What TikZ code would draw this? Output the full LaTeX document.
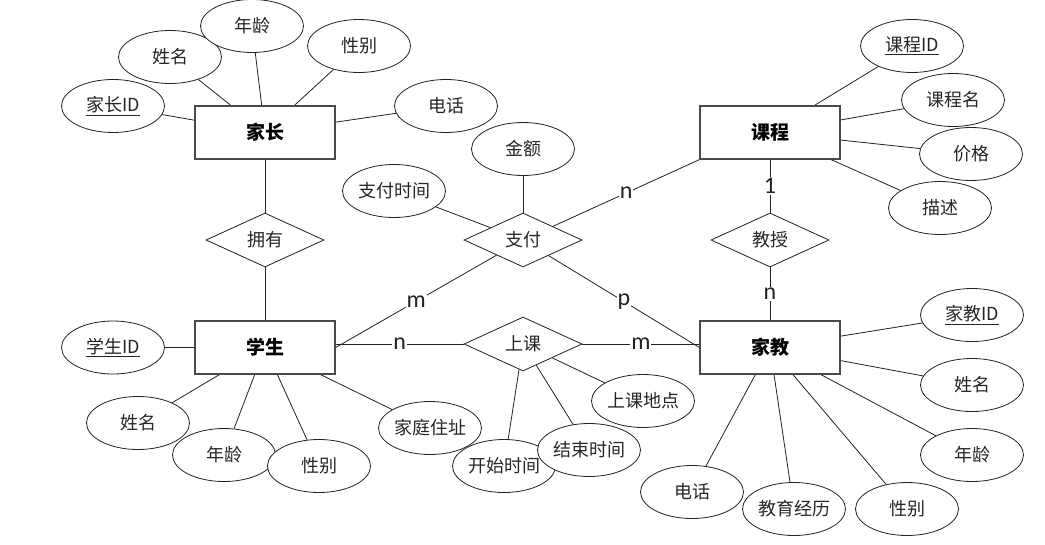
\documentclass[tikz,border=0pt]{standalone}
\usepackage{fontspec}
\setmainfont{Noto Sans CJK SC}
\newfontfamily\cardfont{Carlito}
\usetikzlibrary{shapes.geometric,backgrounds}
\definecolor{ErLine}{HTML}{222222}
\definecolor{ErBox}{HTML}{4A4A4A}
\definecolor{ErText}{HTML}{262626}
\tikzset{
  entbox/.style={draw=ErBox, line width=1.3pt, fill=white, minimum width=140pt,
                 minimum height=53pt, font=\fontsize{19}{21}\selectfont\bfseries},
  attr/.style={ellipse, draw=ErLine, line width=0.8pt, fill=white, minimum width=103pt,
               minimum height=53pt, inner sep=0pt, text=ErText,
               font=\fontsize{18}{20}\selectfont},
  relbox/.style={diamond, draw=ErLine, line width=0.8pt, fill=white, aspect=2.2,
                 inner sep=0pt, minimum width=118pt, minimum height=54pt, text=ErText,
                 font=\fontsize{18}{20}\selectfont},
  link/.style={line width=0.8pt, ErLine},
  card/.style={fill=white, inner sep=1pt, font=\cardfont\fontsize{24}{24}\selectfont},
}

\begin{document}
\begin{tikzpicture}[x=1pt,y=-1pt]
  \useasboundingbox (0,0) rectangle (1045,544);

  % entities
  \node[entbox] (jz) at (265,132.5) {家长};
  \node[entbox] (xs) at (265,347.5) {学生};
  \node[entbox] (kc) at (770,132.5) {课程};
  \node[entbox] (jj) at (770,347.5) {家教};

  % relations
  \node[relbox] (yy) at (265,240) {拥有};
  \node[relbox] (zf) at (523,240) {支付};
  \node[relbox] (js) at (770,240) {教授};
  \node[relbox] (sk) at (523,344) {上课};

  % parent attributes
  \node[attr] (jzid) at (113,106) {\underline{家长ID}};
  \node[attr] (jzxm) at (170,57)  {姓名};
  \node[attr] (jznl) at (252,26)  {年龄};
  \node[attr] (jzxb) at (359,46)  {性别};
  \node[attr] (jzdh) at (446,106) {电话};

  % payment attributes
  \node[attr] (zfje) at (523,149) {金额};
  \node[attr] (zfsj) at (394,191) {支付时间};

  % course attributes
  \node[attr] (kcid) at (912,46)  {\underline{课程ID}};
  \node[attr] (kcm)  at (953,100) {课程名};
  \node[attr] (kcjg) at (971,154) {价格};
  \node[attr] (kcms) at (940,208) {描述};

  % student attributes
  \node[attr] (xsid) at (113,347.5) {\underline{学生ID}};
  \node[attr] (xsxm) at (138,423) {姓名};
  \node[attr] (xsnl) at (224,455) {年龄};
  \node[attr] (xsxb) at (319,466) {性别};
  \node[attr] (xszz) at (430,428) {家庭住址};

  % class attributes
  \node[attr] (skks) at (504,466) {开始时间};
  \node[attr] (skjs) at (589,450) {结束时间};
  \node[attr] (skdd) at (643,401) {上课地点};

  % tutor attributes
  \node[attr] (jjid) at (972,315) {\underline{家教ID}};
  \node[attr] (jjxm) at (972,385) {姓名};
  \node[attr] (jjnl) at (972,455) {年龄};
  \node[attr] (jjdh) at (692,492) {电话};
  \node[attr] (jjjl) at (794,509) {教育经历};
  \node[attr] (jjxb) at (907,509) {性别};

  \begin{scope}[on background layer]
    \foreach \a in {jzid,jzxm,jznl,jzxb,jzdh} \draw[link] (\a) -- (jz);
    \foreach \a in {kcid,kcm,kcjg,kcms} \draw[link] (\a) -- (kc);
    \foreach \a in {xsid,xsxm,xsnl,xsxb,xszz} \draw[link] (\a) -- (xs);
    \foreach \a in {jjid,jjxm,jjnl,jjdh,jjjl,jjxb} \draw[link] (\a) -- (jj);
    \foreach \a in {zfje,zfsj} \draw[link] (\a) -- (zf);
    \foreach \a in {skks,skjs,skdd} \draw[link] (\a) -- (sk);

    % relationship lines with cardinalities
    \draw[link] (jz) -- (yy);
    \draw[link] (yy) -- (xs);
    \draw[link] (zf) -- node[card] {n} (kc.south west);
    \draw[link] (xs.east) -- node[card] {m} (zf);
    \draw[link] (zf) -- node[card] {p} (jj.west);
    \draw[link] (sk.west -| xs.east) -- node[card] {n} (sk.west);
    \draw[link] (sk.east) -- node[card] {m} (sk.east -| jj.west);
    \draw[link] (kc) -- node[card] {1} (js);
    \draw[link] (js) -- node[card] {n} (jj);
  \end{scope}
\end{tikzpicture}
\end{document}
